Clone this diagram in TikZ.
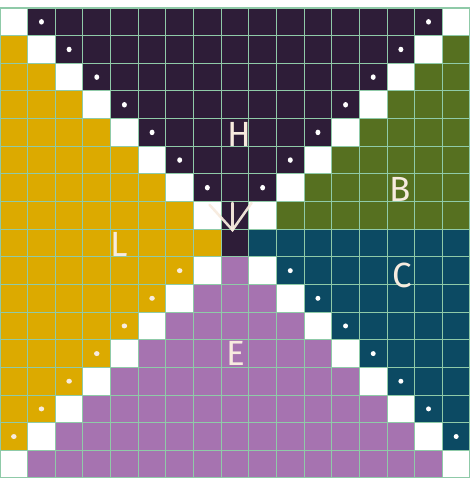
\documentclass[tikz,border=0pt]{standalone}
\usepackage{fontspec}
\newfontfamily\handfont{Fira Sans}
\definecolor{darkc}{HTML}{2E1D38}
\definecolor{yelc}{HTML}{DCAA00}
\definecolor{grnc}{HTML}{567020}
\definecolor{tealc}{HTML}{0C4A63}
\definecolor{purc}{HTML}{A673B0}
\definecolor{gridc}{HTML}{8FCAA8}
\definecolor{creamc}{HTML}{F7EBDF}
\begin{document}
\begin{tikzpicture}[x=1cm,y=1cm,
  dotw/.style={fill=white},
  dotc/.style={fill=creamc},
  letter/.style={text=creamc,font=\handfont\fontsize{36}{36}\selectfont,inner sep=0pt},
  arrowline/.style={draw=creamc,line width=2.6pt,line cap=round,opacity=0.95}]
\fill[white] (0,0) rectangle (17,17.29);
\useasboundingbox (0,0) rectangle (17,17.29);
% top half
\foreach \k in {0,...,7}{
  \pgfmathtruncatemacro{\yy}{16-\k}
  \fill[darkc] (\k+1,\yy) rectangle (16-\k,\yy+1);
  \ifnum\k>0
    \fill[yelc] (0,\yy) rectangle (\k,\yy+1);
    \fill[grnc] (17-\k,\yy) rectangle (17,\yy+1);
  \fi
}
% middle row
\fill[yelc] (0,8) rectangle (8,9);
\fill[darkc] (8,8) rectangle (9,9);
\fill[tealc] (9,8) rectangle (17,9);
% bottom half
\foreach \j in {0,...,7}{
  \pgfmathtruncatemacro{\yy}{7-\j}
  \ifnum\j<7
    \fill[yelc] (0,\yy) rectangle (7-\j,\yy+1);
    \fill[tealc] (10+\j,\yy) rectangle (17,\yy+1);
  \fi
  \fill[purc] (8-\j,\yy) rectangle (9+\j,\yy+1);
}
% grid
\draw[gridc,line width=1.1pt] (0,0) grid (17,17);
% dots
\foreach \k in {0,...,6}{
  \fill[dotw] (\k+1.5,16.5-\k) ellipse (0.09 and 0.1);
  \fill[dotw] (15.5-\k,16.5-\k) ellipse (0.09 and 0.1);
}
\foreach \j in {0,...,6}{
  \fill[dotc] (6.5-\j,7.5-\j) ellipse (0.1 and 0.09);
  \fill[dotw] (10.5+\j,7.5-\j) ellipse (0.09 and 0.09);
}
% letters
\node[letter] (H) at (8.66,12.42) {H};
\node[letter] (B) at (14.48,10.45) {B};
\node[letter] (C) at (14.55,7.34) {C};
\node[letter] (E) at (8.52,4.52) {E};
\node[letter] (L) at (4.30,8.46) {L};
% arrow
\coordinate (atop) at (8.41,9.95);
\coordinate (atip) at (8.41,8.97);
\coordinate (aleft) at (7.58,9.88);
\coordinate (aright) at (9.10,9.95);
\draw[arrowline] (atop) -- (atip);
\draw[arrowline] (aleft) -- (atip) -- (aright);
\end{tikzpicture}
\end{document}
